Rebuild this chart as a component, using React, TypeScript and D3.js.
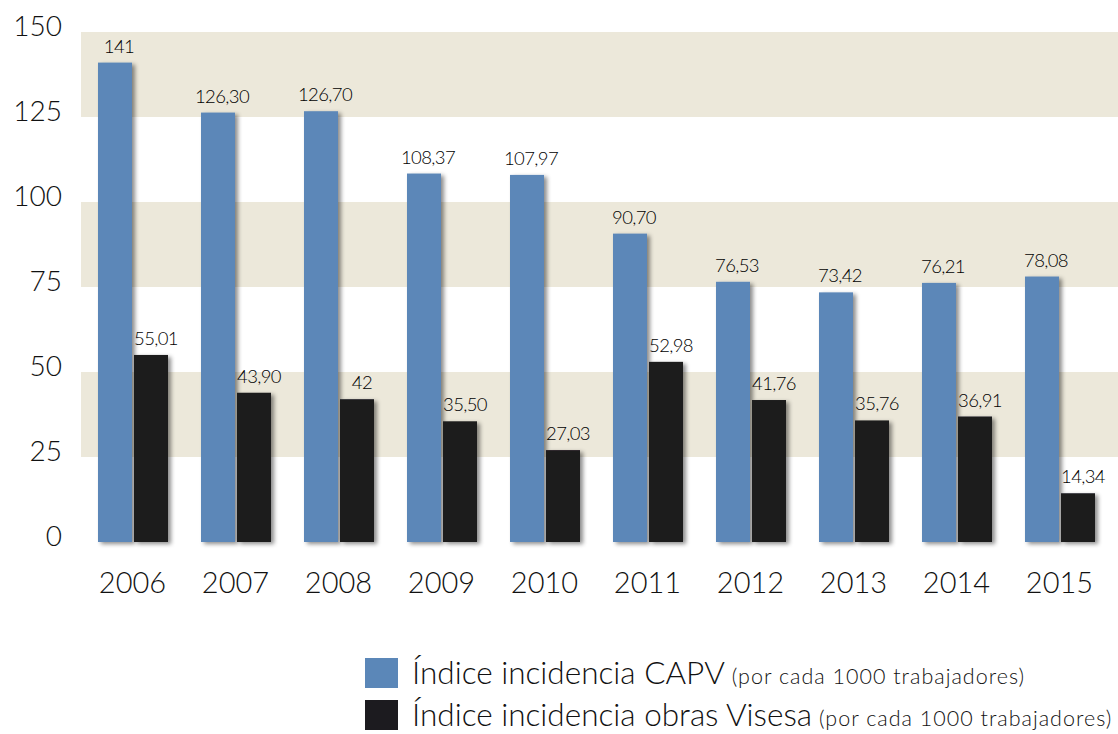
import React from "react";
import * as d3 from "d3";

const years = ["2006","2007","2008","2009","2010","2011","2012","2013","2014","2015"];
const capv = [141, 126.3, 126.7, 108.37, 107.97, 90.7, 76.53, 73.42, 76.21, 78.08];
const capvLabels = ["141","126,30","126,70","108,37","107,97","90,70","76,53","73,42","76,21","78,08"];
const visesa = [55.01, 43.9, 42, 35.5, 27.03, 52.98, 41.76, 35.76, 36.91, 14.34];
const visesaLabels = ["55,01","43,90","42","35,50","27,03","52,98","41,76","35,76","36,91","14,34"];
const yTicks = [0, 25, 50, 75, 100, 125, 150];
const bands = [[125, 150], [75, 100], [25, 50]];
const legendItems = [
  { main: "Índice incidencia CAPV", sub: "(por cada 1000 trabajadores)", color: "#5b87b8" },
  { main: "Índice incidencia obras Visesa", sub: "(por cada 1000 trabajadores)", color: "#1c1b1f" },
];

const BLUE = "#5b87b8";
const BLACK = "#1c1b1f";
const BAND = "#ece8da";
const FONT = "Lato, 'Open Sans', sans-serif";

export default function App() {
  const W = 1118, H = 734;
  const y = d3.scaleLinear().domain([0, 150]).range([542, 32]);
  const x = d3.scalePoint<string>().domain(years).range([133.5, 1060.5]);
  const bw = 34;
  return (
    <svg width={W} height={H} style={{ position: "absolute", left: 0, top: 0, background: "#fff" }}>
      <defs>
        <filter id="sh" x="-30%" y="-10%" width="160%" height="130%">
          <feDropShadow dx="3" dy="2" stdDeviation="2" floodColor="#000" floodOpacity="0.45" />
        </filter>
      </defs>
      {bands.map(([a, b], i) => (
        <rect key={i} x={81} y={y(b)} width={W - 81} height={y(a) - y(b)} fill={BAND} />
      ))}
      {yTicks.map((t) => (
        <text key={t} x={62} y={y(t) + 4} textAnchor="end" fontFamily={FONT} fontWeight={300} fontSize={28} fill="#111">{t}</text>
      ))}
      {years.map((yr, i) => {
        const cx = x(yr)!;
        return (
          <g key={yr}>
            <rect x={cx - bw - 1.5} y={y(capv[i])} width={bw} height={y(0) - y(capv[i])} fill={BLUE} filter="url(#sh)" />
            <rect x={cx + 0.5} y={y(visesa[i])} width={bw} height={y(0) - y(visesa[i])} fill={BLACK} filter="url(#sh)" />
            <text x={cx - bw / 2 - 1.5 + 4} y={y(capv[i]) - 10} textAnchor="middle" fontFamily={FONT} fontWeight={300} fontSize={18.5} letterSpacing={-0.6} fill="#000">{capvLabels[i]}</text>
            <text x={cx + bw / 2 + 0.5 + 5} y={y(visesa[i]) - 10} textAnchor="middle" fontFamily={FONT} fontWeight={300} fontSize={18.5} letterSpacing={-0.6} fill="#000">{visesaLabels[i]}</text>
            <text x={cx - 1} y={593} textAnchor="middle" fontFamily={FONT} fontWeight={300} fontSize={29} fill="#111">{yr}</text>
          </g>
        );
      })}
      {legendItems.map((it, i) => (
        <g key={i} transform={`translate(365, ${658 + i * 42})`}>
          <rect x={0} y={0} width={33} height={30} fill={it.color} />
          <text x={47} y={26} fontFamily={FONT} fontWeight={300} fontSize={31.5} fill="#111">
            {it.main}
            <tspan fontSize={21.5} dx={7} letterSpacing={1.0}>{it.sub}</tspan>
          </text>
        </g>
      ))}
    </svg>
  );
}
